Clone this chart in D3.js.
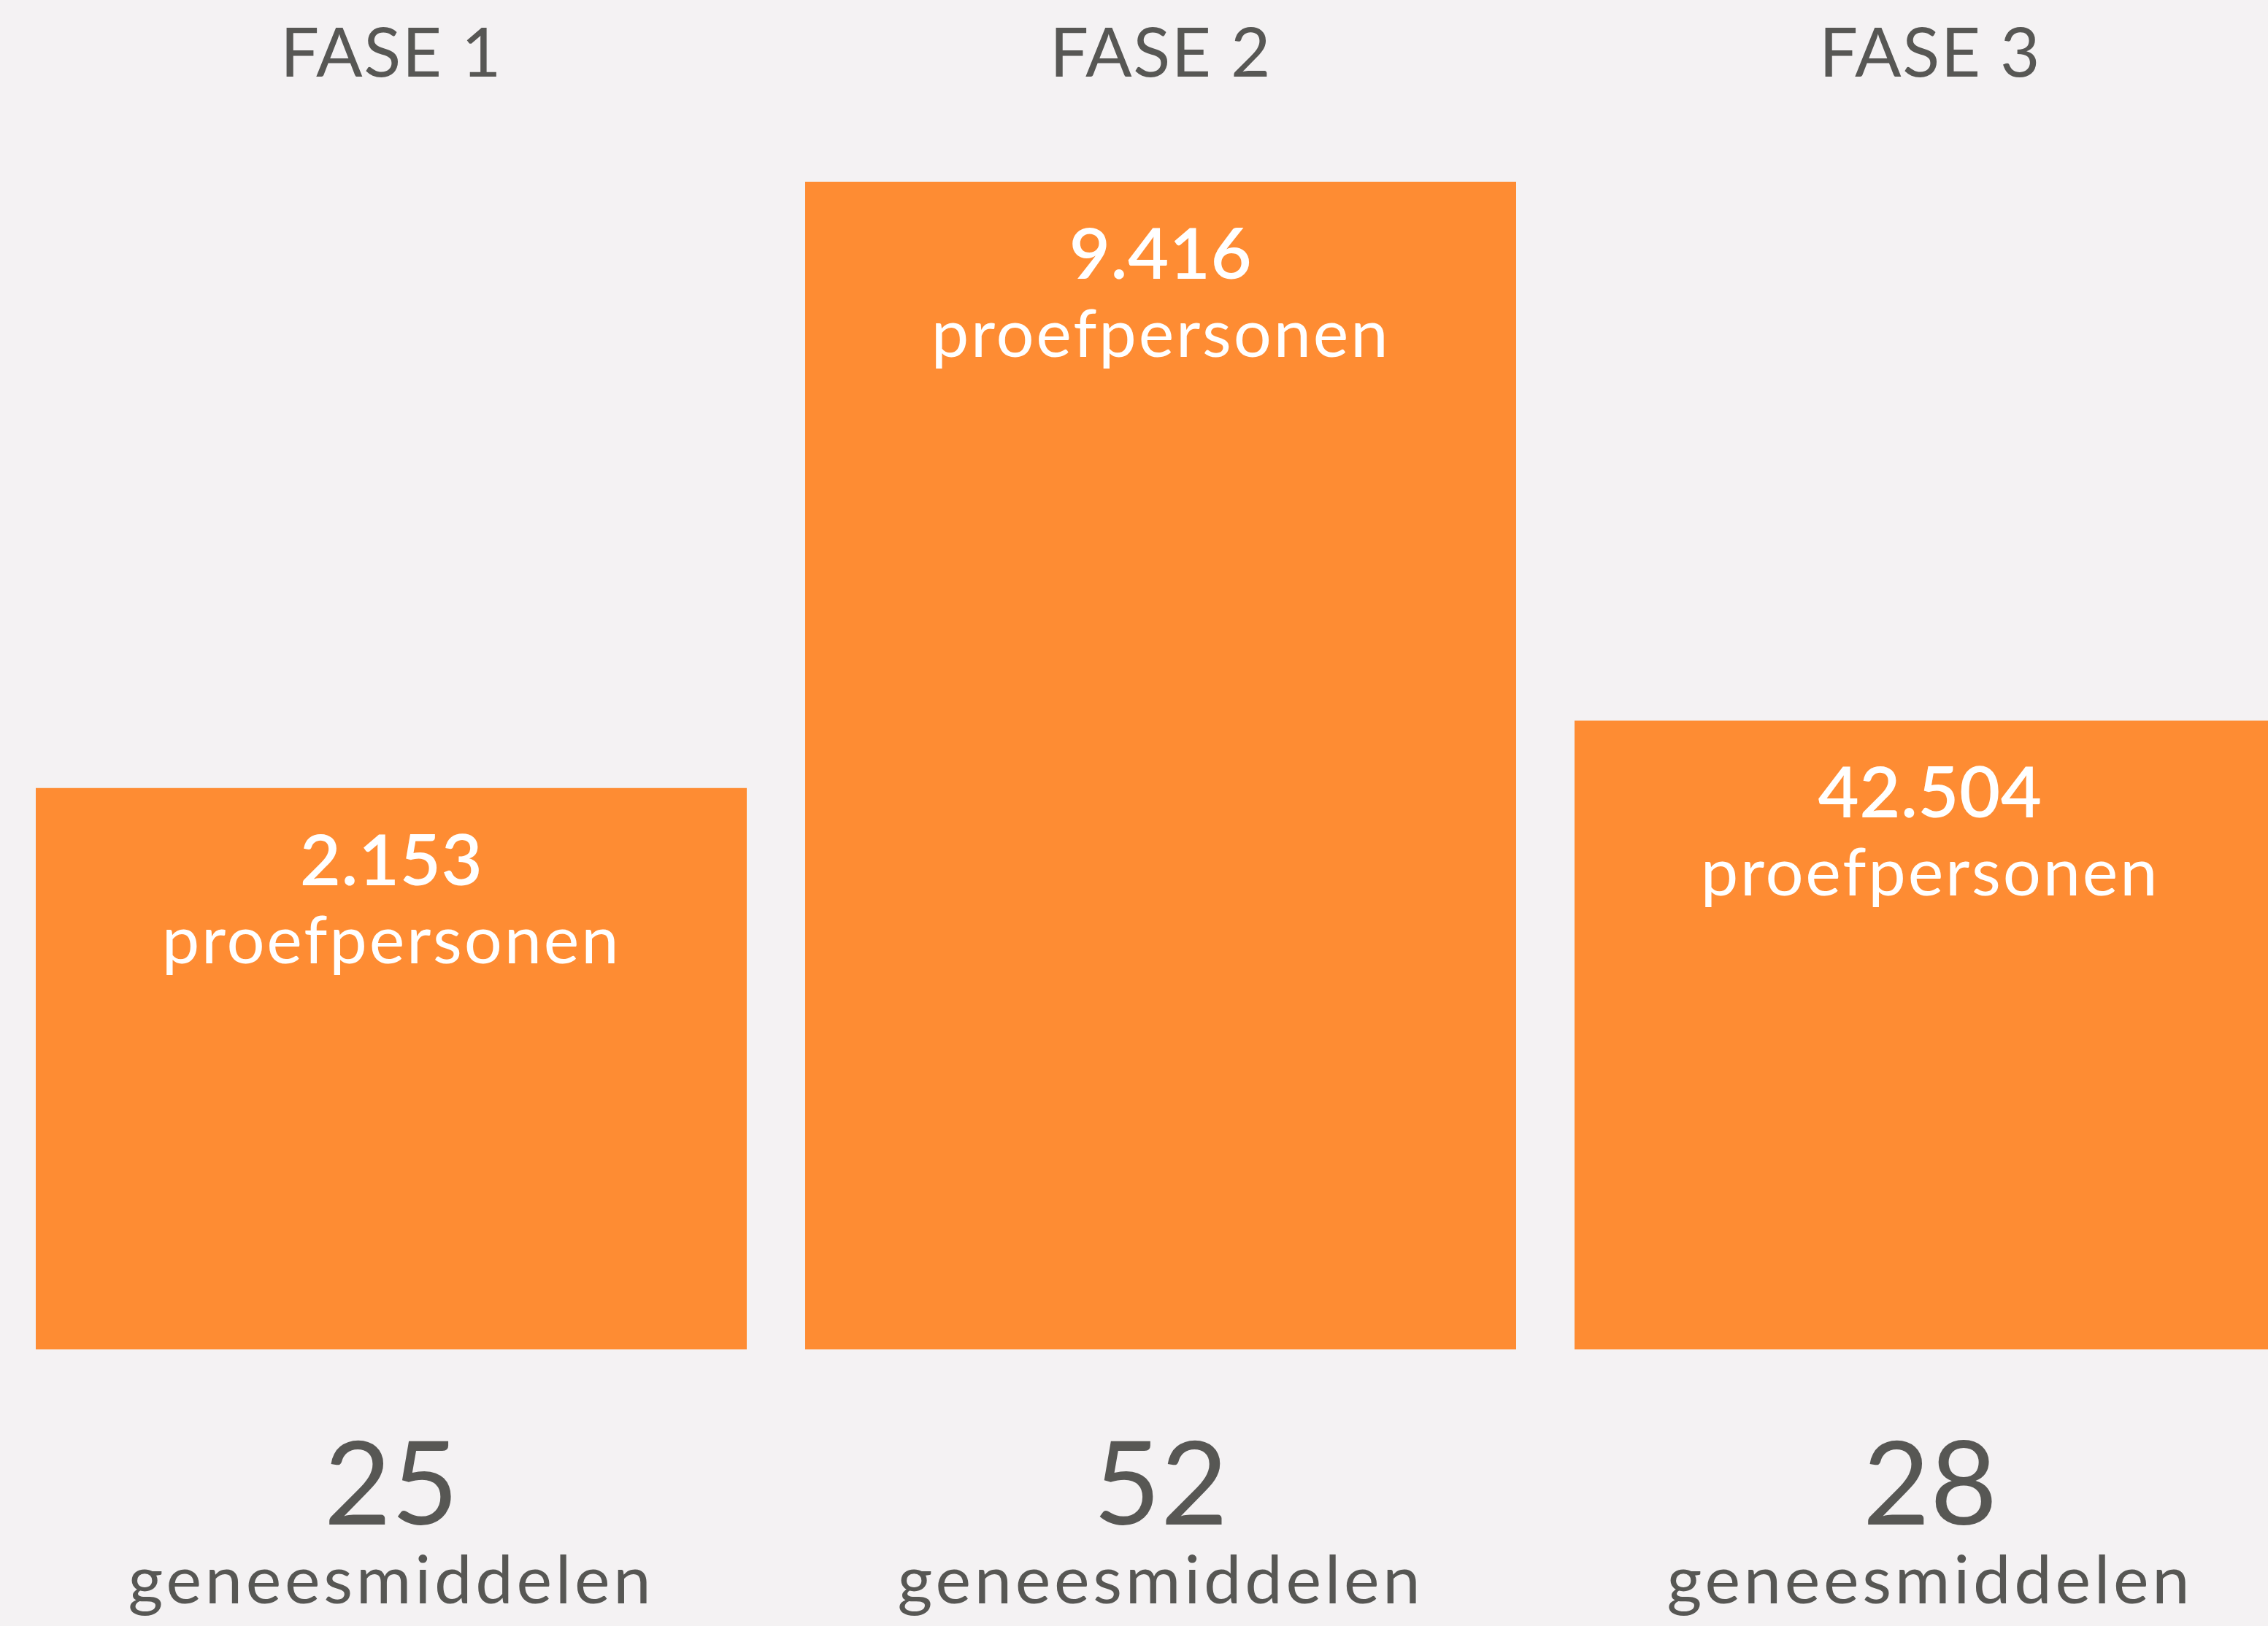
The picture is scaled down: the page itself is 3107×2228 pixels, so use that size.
<!DOCTYPE html>
<html>
<head>
<meta charset="utf-8">
<script src="https://cdn.jsdelivr.net/npm/d3@7/dist/d3.min.js"></script>
<style>
  html, body { margin: 0; padding: 0; background: #F4F2F3; }
  svg { display: block; }
  text { font-family: "Lato", "Noto Sans", sans-serif; }
</style>
</head>
<body>
<svg id="chart" width="3107" height="2228"></svg>
<script>
const phases = ["FASE 1", "FASE 2", "FASE 3"];
const drugs = [25, 52, 28];
const subjects = [2153, 9416, 42504];
const subjectLabel = "proefpersonen";
const drugLabel = "geneesmiddelen";

const W = 3107, H = 2228;
const orange = "#FE8C33";
const grey = "#575754";
const nl = d3.formatLocale({decimal: ",", thousands: ".", grouping: [3], currency: ["€", ""]});
const fmt = nl.format(",d");

const data = phases.map((p, i) => ({phase: p, drugs: drugs[i], subjects: subjects[i]}));

const svg = d3.select("#chart");
svg.append("rect").attr("width", W).attr("height", H).attr("fill", "#F4F2F3");

const x = d3.scaleBand().domain(phases).range([9, 3171]).paddingInner(80 / 1054).paddingOuter(40 / 1054);
const y = d3.scaleLinear().domain([0, 52]).range([1849, 249]);

const g = svg.selectAll("g.col").data(data).join("g").attr("class", "col");

g.append("rect")
  .attr("x", d => x(d.phase))
  .attr("y", d => y(d.drugs))
  .attr("width", x.bandwidth())
  .attr("height", d => y(0) - y(d.drugs))
  .attr("fill", orange);

const cx = d => x(d.phase) + x.bandwidth() / 2;

g.append("text")
  .attr("x", cx).attr("y", 105)
  .attr("text-anchor", "middle")
  .attr("font-size", 94).attr("letter-spacing", 1.5)
  .attr("fill", grey)
  .text(d => d.phase);

g.append("text")
  .attr("x", cx).attr("y", d => y(d.drugs) + 133)
  .attr("text-anchor", "middle")
  .attr("font-size", 97).attr("font-weight", 600).attr("letter-spacing", 0.5)
  .attr("fill", "#fff")
  .text(d => fmt(d.subjects));

g.append("text")
  .attr("x", cx).attr("y", d => y(d.drugs) + 240)
  .attr("text-anchor", "middle")
  .attr("font-size", 92).attr("letter-spacing", 2.8)
  .attr("fill", "#fff")
  .text(subjectLabel);

g.append("text")
  .attr("x", cx).attr("y", 2089)
  .attr("text-anchor", "middle")
  .attr("font-size", 159)
  .attr("fill", grey)
  .text(d => d.drugs);

g.append("text")
  .attr("x", cx).attr("y", 2197)
  .attr("text-anchor", "middle")
  .attr("font-size", 92).attr("letter-spacing", 4.7)
  .attr("fill", grey)
  .text(drugLabel);
</script>
</body>
</html>
